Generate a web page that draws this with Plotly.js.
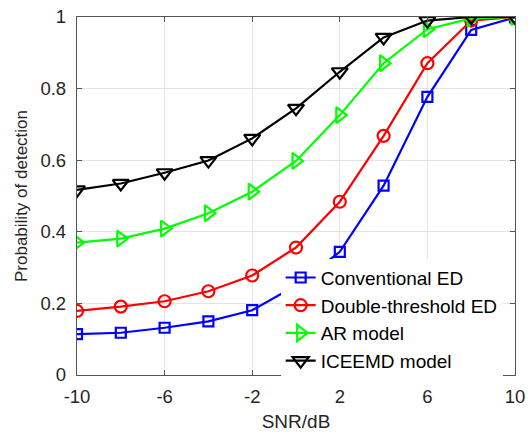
<!DOCTYPE html>
<html><head><meta charset="utf-8">
<script src="https://cdn.plot.ly/plotly-3.0.1.min.js"></script>
<style>html,body{margin:0;padding:0;background:#fff}#chart{width:528px;height:432px}</style>
</head><body><div id="chart"></div>
<script>
var snr = [-10, -8, -6, -4, -2, 0, 2, 4, 6, 8, 10];
var conventionalED = [0.114, 0.118, 0.132, 0.150, 0.181, 0.250, 0.344, 0.529, 0.777, 0.964, 0.999];
var doubleThresholdED = [0.179, 0.191, 0.206, 0.234, 0.278, 0.356, 0.484, 0.668, 0.871, 0.990, 1.0];
var arModel = [0.370, 0.381, 0.409, 0.452, 0.512, 0.598, 0.726, 0.871, 0.966, 0.996, 1.0];
var iceemdModel = [0.517, 0.535, 0.565, 0.599, 0.661, 0.745, 0.847, 0.943, 0.990, 1.0, 1.0];
var xTicks = [-10, -6, -2, 2, 6, 10];
var yTicks = [0, 0.2, 0.4, 0.6, 0.8, 1];
var yTickText = ['0', '0.2', '0.4', '0.6', '0.8', '1'];

function tr(name, y, color, symbol, size) {
  return {x: snr, y: y, name: name, type: 'scatter', mode: 'lines+markers',
    line: {color: color, width: 2.2},
    marker: {symbol: symbol, size: size, color: color, line: {color: color, width: 2.2}}};
}
var data = [
  tr('Conventional ED', conventionalED, '#0000ff', 'square-open', 10),
  tr('Double-threshold ED', doubleThresholdED, '#ff0000', 'circle-open', 12),
  tr('AR model', arModel, '#00ff00', 'triangle-right-open', 14),
  tr('ICEEMD model', iceemdModel, '#000000', 'triangle-down-open', 14)
];
var fontFam = 'Liberation Sans, Arial, sans-serif';
var txt = '#262626';
var layout = {
  width: 528, height: 432,
  margin: {l: 77, r: 13, t: 17, b: 57},
  paper_bgcolor: '#fff', plot_bgcolor: '#fff',
  font: {family: fontFam, size: 18, color: txt},
  showlegend: true,
  legend: {x: 0.465, y: 0.325, xanchor: 'left', yanchor: 'top', bgcolor: '#fff', borderwidth: 0,
    font: {family: fontFam, size: 19, color: '#000'}, tracegroupgap: 0},
  xaxis: {range: [-10, 10], tickvals: xTicks, ticktext: xTicks.map(String), showgrid: true,
    gridcolor: '#e3e3e3', gridwidth: 1, zeroline: false, showline: true, linecolor: '#555', linewidth: 1.2,
    mirror: 'ticks', ticks: 'inside', ticklen: 5, tickcolor: '#555', ticklabelstandoff: 5,
    tickfont: {family: fontFam, size: 18.5, color: txt},
    title: {text: 'SNR/dB', font: {family: fontFam, size: 19, color: txt}, standoff: 9}},
  yaxis: {range: [0, 1], tickvals: yTicks, ticktext: yTickText, showgrid: true,
    gridcolor: '#e3e3e3', gridwidth: 1, zeroline: false, showline: true, linecolor: '#555', linewidth: 1.2,
    mirror: 'ticks', ticks: 'inside', ticklen: 5, tickcolor: '#555', ticklabelstandoff: 6,
    tickfont: {family: fontFam, size: 18.5, color: txt},
    title: {text: 'Probability of detection', font: {family: fontFam, size: 17, color: txt}, standoff: 8}}
};
Plotly.newPlot('chart', data, layout, {displayModeBar: false, staticPlot: true});
</script></body></html>
